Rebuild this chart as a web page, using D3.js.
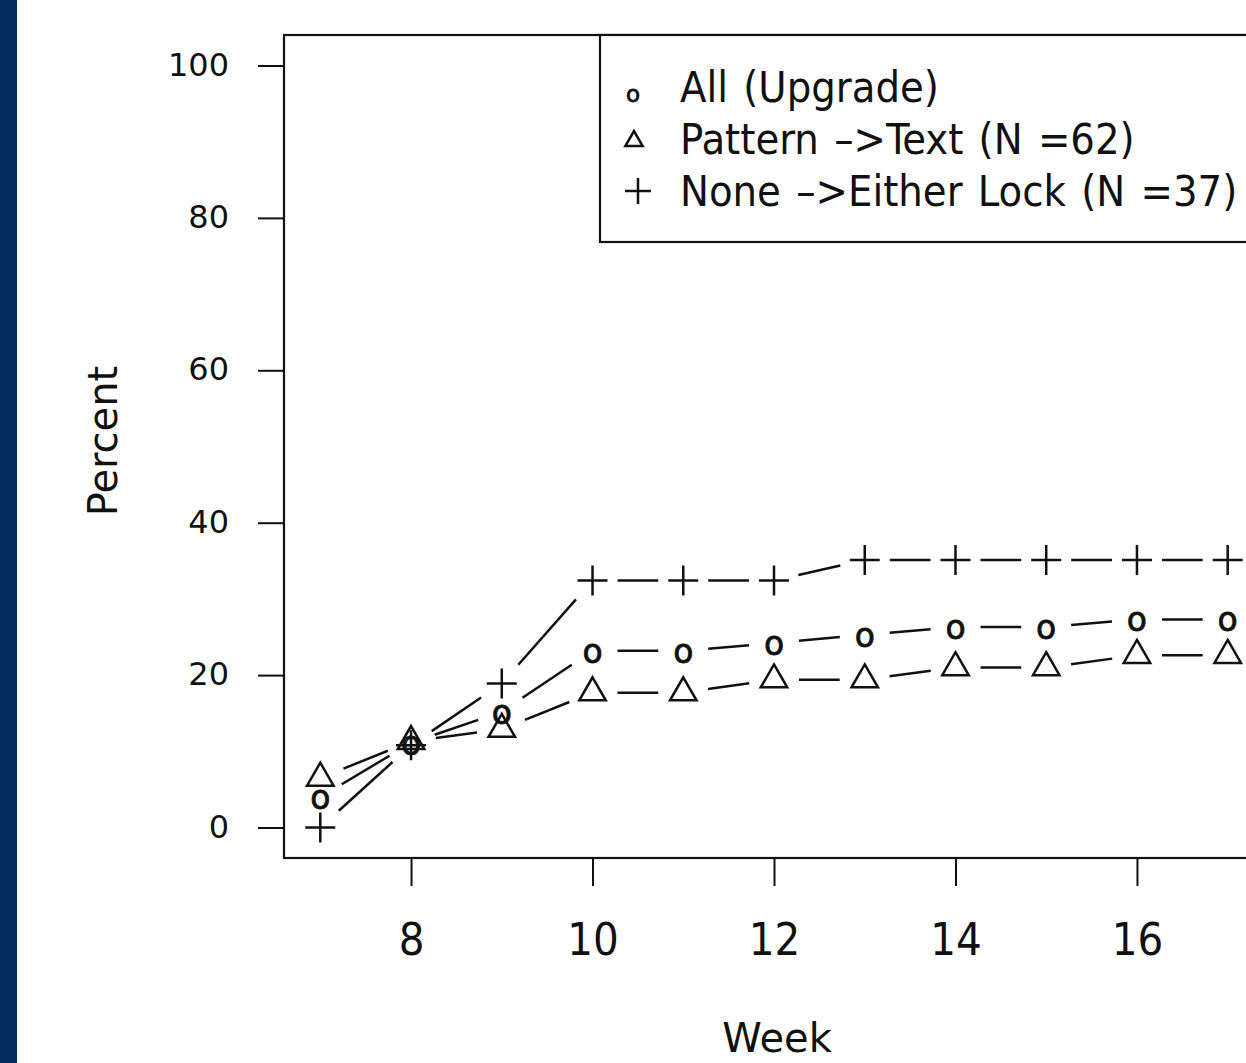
<!DOCTYPE html>
<html>
<head>
<meta charset="utf-8">
<script src="https://cdn.jsdelivr.net/npm/d3@7"></script>
<style>
  body { margin: 0; background: #fff; }
  svg { display: block; }
</style>
</head>
<body>
<div class="canvas"></div>
<script>
// data (percent of users per week)
const weeks = [7, 8, 9, 10, 11, 12, 13, 14, 15, 16, 17];
const allUpgrade = [4.0, 11.1, 15.2, 23.2, 23.2, 24.2, 25.3, 26.3, 26.3, 27.3, 27.3];
const patternToText = [6.5, 11.3, 12.9, 17.7, 17.7, 19.4, 19.4, 21.0, 21.0, 22.6, 22.6];
const noneToEither = [0, 10.8, 18.9, 32.4, 32.4, 32.4, 35.1, 35.1, 35.1, 35.1, 35.1];
const xTicks = [8, 10, 12, 14, 16];
const yTicks = [0, 20, 40, 60, 80, 100];
const legendLabels = ["All (Upgrade)", "Pattern \u2013>Text (N =62)", "None \u2013>Either Lock (N =37)"];

const W = 1246, H = 1063;
const plotL = 284, plotT = 35, plotR = 1264, plotB = 858;
const font = "DejaVu Sans, Verdana, sans-serif";
const condensed = "DejaVu Sans Condensed, DejaVu Sans, sans-serif";
const ink = "#111";

const svg = d3.select(".canvas")
  .append("svg")
  .attr("width", W)
  .attr("height", H);

// navy strip on the left edge
svg.append("rect")
  .attr("x", 0).attr("y", 0)
  .attr("width", 17).attr("height", H)
  .attr("fill", "#022e5f");

const x = d3.scaleLinear().domain([6.6, 17.4]).range([plotL, plotR]);
const y = d3.scaleLinear().domain([-4, 104]).range([plotB, plotT]);

// y axis
const yAxis = svg.append("g")
  .attr("transform", `translate(${plotL},0)`)
  .call(d3.axisLeft(y).tickValues(yTicks).tickSize(26).tickSizeOuter(0).tickPadding(29));
yAxis.select(".domain").remove();
yAxis.selectAll("line").attr("stroke", ink).attr("stroke-width", 2);
yAxis.selectAll("text")
  .attr("font-family", font)
  .attr("font-size", 32)
  .attr("fill", ink)
  .attr("dy", "0.3em");

// x axis
const xAxis = svg.append("g")
  .attr("transform", `translate(0,${plotB})`)
  .call(d3.axisBottom(x).tickValues(xTicks).tickSize(28).tickSizeOuter(0));
xAxis.select(".domain").remove();
xAxis.selectAll("line").attr("stroke", ink).attr("stroke-width", 2);
xAxis.selectAll("text")
  .attr("font-family", condensed)
  .attr("font-size", 45)
  .attr("fill", ink)
  .attr("y", 97)
  .attr("dy", 0);

// plot frame
svg.append("rect")
  .attr("x", plotL).attr("y", plotT)
  .attr("width", plotR - plotL).attr("height", plotB - plotT)
  .attr("fill", "none")
  .attr("stroke", ink)
  .attr("stroke-width", 2.2);

// axis titles
svg.append("text")
  .attr("x", 777).attr("y", 1052)
  .attr("text-anchor", "middle")
  .attr("font-family", font)
  .attr("font-size", 40)
  .attr("fill", ink)
  .text("Week");

svg.append("text")
  .attr("transform", "translate(117,441) rotate(-90)")
  .attr("text-anchor", "middle")
  .attr("font-family", font)
  .attr("font-size", 40)
  .attr("fill", ink)
  .text("Percent");

// marker drawers
const TRI = 15.3;
const sw = 2.5;
function triangle(g, cx, cy, r) {
  const hw = r * Math.sqrt(3) / 2;
  g.append("path")
    .attr("d", `M${cx},${cy - r}L${cx + hw},${cy + r / 2}L${cx - hw},${cy + r / 2}Z`)
    .attr("fill", "none").attr("stroke", ink).attr("stroke-width", sw);
}
function plus(g, cx, cy, s) {
  g.append("path")
    .attr("d", `M${cx - s},${cy}H${cx + s}M${cx},${cy - s}V${cy + s}`)
    .attr("fill", "none").attr("stroke", ink).attr("stroke-width", sw);
}
function oChar(g, cx, cy, size, shift) {
  g.append("text")
    .attr("x", cx).attr("y", cy + shift)
    .attr("text-anchor", "middle")
    .attr("font-family", font)
    .attr("font-size", size)
    .attr("stroke", ink)
    .attr("stroke-width", 0.8)
    .attr("fill", ink)
    .text("o");
}

// type = "b": segments broken around each point
const gap = 25;
function drawSeries(values, marker) {
  const g = svg.append("g");
  const pts = weeks.map((w, i) => [x(w), y(values[i])]);
  for (let i = 0; i < pts.length - 1; i++) {
    const [x1, y1] = pts[i], [x2, y2] = pts[i + 1];
    const len = Math.hypot(x2 - x1, y2 - y1);
    if (len <= 2 * gap) continue;
    const ux = (x2 - x1) / len, uy = (y2 - y1) / len;
    g.append("line")
      .attr("x1", x1 + ux * gap).attr("y1", y1 + uy * gap)
      .attr("x2", x2 - ux * gap).attr("y2", y2 - uy * gap)
      .attr("stroke", ink).attr("stroke-width", sw);
  }
  pts.forEach(([px, py]) => marker(g, px, py));
}

drawSeries(noneToEither, (g, px, py) => plus(g, px, py, 15));
drawSeries(patternToText, (g, px, py) => triangle(g, px, py, TRI));
drawSeries(allUpgrade, (g, px, py) => oChar(g, px, py, 33, 12));

// legend
const legend = svg.append("g");
legend.append("rect")
  .attr("x", 600).attr("y", plotT)
  .attr("width", 700).attr("height", 207)
  .attr("fill", "#fff")
  .attr("stroke", ink)
  .attr("stroke-width", 2.2);

const rowY = [87, 139, 191];
legendLabels.forEach((label, i) => {
  legend.append("text")
    .attr("x", 680).attr("y", rowY[i] + 15)
    .attr("font-family", condensed)
    .attr("font-size", 43)
    .attr("word-spacing", 3)
    .attr("fill", ink)
    .text(label);
});
oChar(legend, 633, rowY[0], 23, 15);
triangle(legend, 634, rowY[1] + 2, 10);
plus(legend, 638, rowY[2], 13);
</script>
</body>
</html>
